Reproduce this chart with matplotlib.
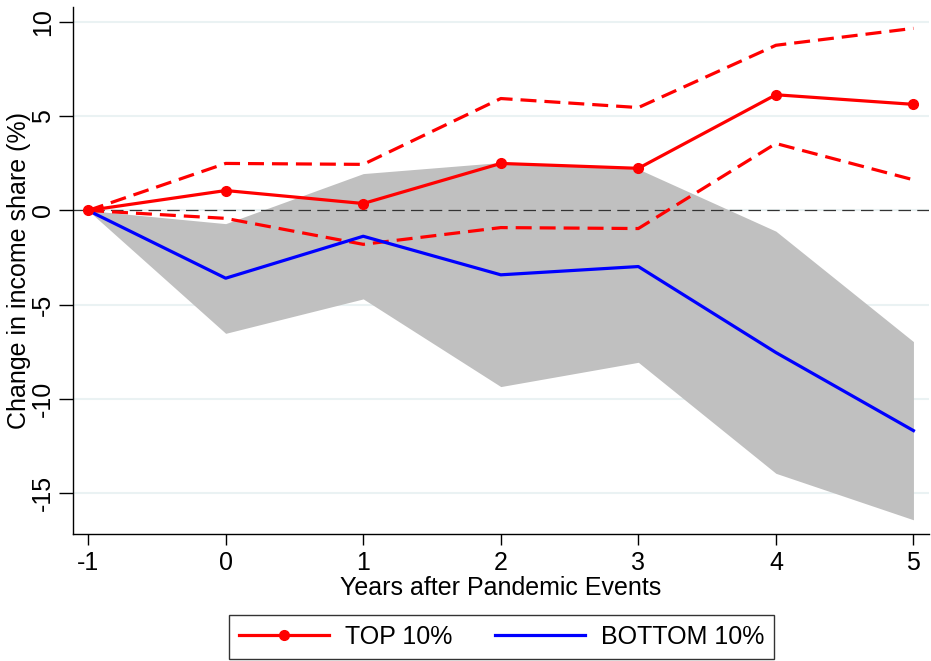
import matplotlib
matplotlib.use('Agg')
import matplotlib.pyplot as plt
import numpy as np

plt.rcParams['font.family'] = ['Liberation Sans', 'DejaVu Sans']
plt.rcParams['axes.unicode_minus'] = False

years = [-1, 0, 1, 2, 3, 4, 5]

top_est = [0, 1.06, 0.37, 2.5, 2.24, 6.15, 5.64]
top_hi = [0, 2.5, 2.45, 5.95, 5.47, 8.78, 9.68]
top_lo = [0, -0.42, -1.8, -0.91, -0.96, 3.56, 1.63]

bot_est = [0, -3.6, -1.37, -3.42, -2.98, -7.55, -11.7]
bot_hi = [0, -0.7, 1.96, 2.55, 2.2, -1.1, -6.97]
bot_lo = [0, -6.53, -4.7, -9.36, -8.07, -13.97, -16.44]

yticks = [-15, -10, -5, 0, 5, 10]

fig = plt.figure(figsize=(9.31, 6.61), dpi=100)
ax = fig.add_axes([0.0784, 0.192, 0.919, 0.797])

for y in yticks:
    ax.axhline(y, color='#eaf2f3', lw=1.5, zorder=0)

ax.fill_between(years, bot_lo, bot_hi, color='#c0c0c0', lw=0, zorder=1)
ax.axhline(0, color='#333333', lw=0.9, ls=(0, (10, 5)), zorder=2)

ax.plot(years, top_hi, color='red', lw=2.3, ls=(0, (5, 2.5)), zorder=3)
ax.plot(years, top_lo, color='red', lw=2.3, ls=(0, (5, 2.5)), zorder=3)
ax.plot(years, bot_est, color='blue', lw=2.3, zorder=4, label='BOTTOM 10%')
ax.plot(years, top_est, color='red', lw=2.3, marker='o', ms=7, zorder=5, label='TOP 10%')

ax.set_xlim(-1.11, 5.11)
ax.set_ylim(-17.2, 10.8)
ax.set_xticks(years)
ax.set_yticks(yticks)
ax.set_yticklabels([str(t) for t in yticks], rotation=90, va='center')
ax.tick_params(axis='both', labelsize=18, direction='out', width=1)
ax.tick_params(axis='y', length=10, pad=3)
ax.tick_params(axis='x', length=8, pad=4)

for s in ['top', 'right']:
    ax.spines[s].set_visible(False)
for s in ['left', 'bottom']:
    ax.spines[s].set_linewidth(1)

ax.set_xlabel('Years after Pandemic Events', fontsize=18, labelpad=1)
ax.set_ylabel('Change in income share (%)', fontsize=18, labelpad=0)

handles, labels = ax.get_legend_handles_labels()
leg = ax.legend(handles[::-1], labels[::-1], ncol=2, loc='upper center',
                bbox_to_anchor=(0.501, -0.13), fontsize=18, frameon=True,
                fancybox=False, edgecolor='black', handlelength=3.6,
                handletextpad=0.64, columnspacing=1.7, borderpad=0.4)
leg.get_frame().set_linewidth(1)

fig.savefig('out.png', dpi=100)
